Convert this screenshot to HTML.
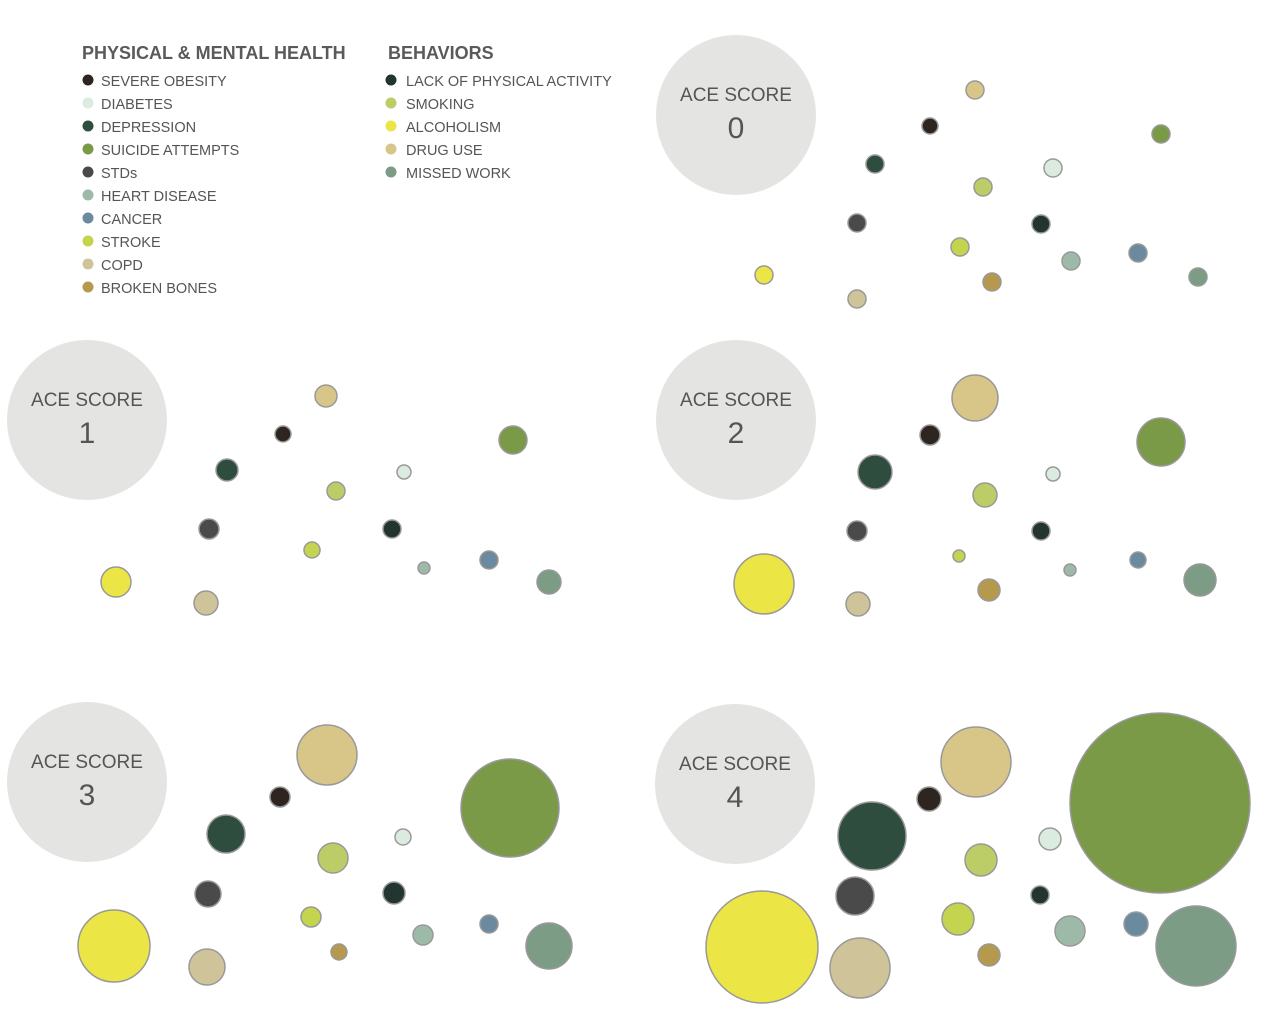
<!DOCTYPE html>
<html><head><meta charset="utf-8"><style>
body{margin:0;background:#fff;width:1261px;height:1016px;overflow:hidden;font-family:"Liberation Sans",sans-serif}
svg{display:block}
</style></head><body>
<svg id="s" width="1261" height="1016" xmlns="http://www.w3.org/2000/svg">
<g font-family="Liberation Sans, sans-serif" fill="#555">
<text x="82" y="59" font-size="18" font-weight="bold" fill="#5a5a5a">PHYSICAL &amp; MENTAL HEALTH</text>
<text x="388" y="59" font-size="18" font-weight="bold" fill="#5a5a5a">BEHAVIORS</text>
</g>
<g id="leg" font-size="14.5" fill="#555" font-family="Liberation Sans, sans-serif"></g>
<g id="c"></g>
</svg>
<script>
const C={ob:"#2e2520",di:"#dcebdf",de:"#2f4d3f",su:"#7a9a48",st:"#4a4a4a",he:"#9dbaa8",ca:"#6b8aa0",sk:"#c5d44e",co:"#cfc39a",bo:"#b59a4e",la:"#223530",sm:"#bccd67",al:"#ebe545",dr:"#d8c688",mi:"#7c9c85"};
const NS="http://www.w3.org/2000/svg";
function el(p,t,a,txt){const e=document.createElementNS(NS,t);for(const k in a)e.setAttribute(k,a[k]);if(txt!=null)e.textContent=txt;p.appendChild(e);return e;}
const leg=document.getElementById('leg');
[["ob","SEVERE OBESITY"],["di","DIABETES"],["de","DEPRESSION"],["su","SUICIDE ATTEMPTS"],["st","STDs"],["he","HEART DISEASE"],["ca","CANCER"],["sk","STROKE"],["co","COPD"],["bo","BROKEN BONES"]].forEach((d,i)=>{el(leg,'circle',{cx:88,cy:80+i*23,r:5.5,fill:C[d[0]]});el(leg,'text',{x:101,y:86+i*23},d[1]);});
[["la","LACK OF PHYSICAL ACTIVITY"],["sm","SMOKING"],["al","ALCOHOLISM"],["dr","DRUG USE"],["mi","MISSED WORK"]].forEach((d,i)=>{el(leg,'circle',{cx:391,cy:80+i*23,r:5.5,fill:C[d[0]]});el(leg,'text',{x:406,y:86+i*23},d[1]);});
const g=document.getElementById('c');
const big=[[736,115,0],[87,420,1],[736,420,2],[87,782,3],[735,784,4]];
big.forEach(b=>{el(g,'circle',{cx:b[0],cy:b[1],r:80,fill:"#e4e4e2"});
el(g,'text',{x:b[0],y:b[1]-14,'font-size':19,'text-anchor':'middle',fill:'#555','font-family':'Liberation Sans, sans-serif'},"ACE SCORE");
el(g,'text',{x:b[0],y:b[1]+23,'font-size':30,'text-anchor':'middle',fill:'#555','font-family':'Liberation Sans, sans-serif'},String(b[2]));});
const P=[
[["dr",975,90,9],["ob",930,126,8],["su",1161,134,9],["de",875,164,9],["di",1053,168,9],["sm",983,187,9],["st",857,223,9],["la",1041,224,9],["sk",960,247,9],["he",1071,261,9],["ca",1138,253,9],["mi",1198,277,9],["al",764,275,9],["bo",992,282,9],["co",857,299,9]],
[["dr",326,396,11],["ob",283,434,8],["su",513,440,14],["de",227,470,11],["di",404,472,7],["sm",336,491,9],["st",209,529,10],["la",392,529,9],["sk",312,550,8],["he",424,568,6],["ca",489,560,9],["mi",549,582,12],["al",116,582,15],["co",206,603,12]],
[["dr",975,398,23],["ob",930,435,10],["su",1161,442,24],["de",875,472,17],["di",1053,474,7],["sm",985,495,12],["st",857,531,10],["la",1041,531,9],["sk",959,556,6],["he",1070,570,6],["ca",1138,560,8],["mi",1200,580,16],["al",764,584,30],["bo",989,590,11],["co",858,604,12]],
[["dr",327,755,30],["ob",280,797,10],["su",510,808,49],["de",226,834,19],["di",403,837,8],["sm",333,858,15],["st",208,894,13],["la",394,893,11],["sk",311,917,10],["he",423,935,10],["ca",489,924,9],["mi",549,946,23],["al",114,946,36],["bo",339,952,8],["co",207,967,18]],
[["dr",976,762,35],["ob",929,799,12],["su",1160,803,90],["de",872,836,34],["di",1050,839,11],["sm",981,860,16],["st",855,896,19],["la",1040,895,9],["sk",958,919,16],["he",1070,931,15],["ca",1136,924,12],["mi",1196,946,40],["al",762,947,56],["bo",989,955,11],["co",860,968,30]]];
P.forEach(p=>p.forEach(d=>el(g,'circle',{cx:d[1],cy:d[2],r:d[3],fill:C[d[0]],stroke:"#999","stroke-width":1.5})));
</script>
</body></html>
